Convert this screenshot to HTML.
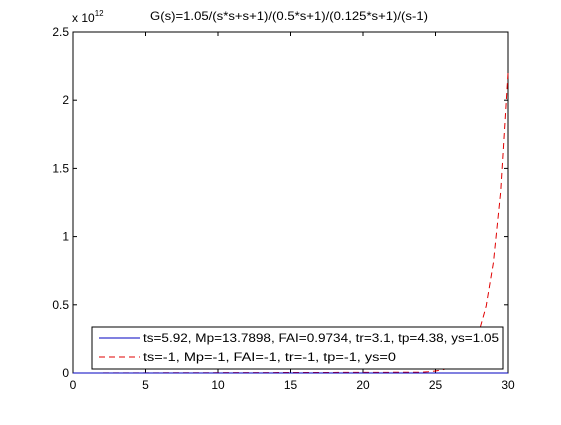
<!DOCTYPE html>
<html><head><meta charset="utf-8"><style>
body{margin:0;background:#fff;}
svg text{font-family:"Liberation Sans",sans-serif;font-size:12px;fill:#000;}
</style></head><body>
<svg id="c" width="561" height="420" viewBox="0 0 561 420" xmlns="http://www.w3.org/2000/svg">
<rect width="561" height="420" fill="#fff"/>
<text x="289" y="20" text-anchor="middle" font-size="13" textLength="278" lengthAdjust="spacingAndGlyphs">G(s)=1.05/(s*s+s+1)/(0.5*s+1)/(0.125*s+1)/(s-1)</text>
<text x="72" y="22">x 10<tspan dy="-6" font-size="8">12</tspan></text>
<g id="ax"></g>
</svg>
<script>
const xTicks=[0,5,10,15,20,25,30];
const yTicks=[0,0.5,1,1.5,2,2.5];
const yTickLabels=["0","0.5","1","1.5","2","2.5"];
const blueT=[0,2,4,6,10,20,30];
const blueY=[0,0,0,0,0,0,0];
const redT=[0,24,24.5,25,25.5,26,26.5,27,27.5,28,28.5,29,29.5,30];
const redY=[0,0.0055,0.009,0.015,0.024,0.04,0.066,0.11,0.18,0.30,0.49,0.81,1.33,2.2];
const L=73,R=508,T=32,B=373;
const sx=v=>L+(v-0)/30*(R-L);
const sy=v=>B-(v-0)/2.5*(B-T);
const NS="http://www.w3.org/2000/svg";
const g=document.getElementById('ax');
function mk(t,a){const e=document.createElementNS(NS,t);for(const k in a)e.setAttribute(k,a[k]);g.appendChild(e);return e;}
let e=mk('rect',{x:L,y:T,width:R-L,height:B-T,fill:'#fff',stroke:'#000','stroke-width':1});


xTicks.forEach(v=>{const x=sx(v);
 mk('line',{x1:x,y1:B,x2:x,y2:B-4,stroke:'#000'});
 mk('line',{x1:x,y1:T,x2:x,y2:T+4,stroke:'#000'});
 const t=mk('text',{x:x,y:B+16,'text-anchor':'middle'});t.textContent=v;
 
 
});
yTicks.forEach((v,i)=>{const y=sy(v);
 mk('line',{x1:L,y1:y,x2:L+4,y2:y,stroke:'#000'});
 mk('line',{x1:R,y1:y,x2:R-4,y2:y,stroke:'#000'});
 const t=mk('text',{x:L-4,y:y+4,'text-anchor':'end'});t.textContent=yTickLabels[i];
 
 
});
let p=mk('polyline',{points:redT.map((t,i)=>sx(t)+','+sy(redY[i])).join(' '),fill:'none',stroke:'#e00000','stroke-width':1,'stroke-dasharray':'6,4'});


p=mk('polyline',{points:blueT.map((t,i)=>sx(t)+','+sy(blueY[i])).join(' '),fill:'none',stroke:'#0000c0','stroke-width':1});


const lg=mk('rect',{x:92,y:327,width:411,height:42,fill:'#fff',stroke:'#000'});


mk('line',{x1:99,y1:338,x2:140,y2:338,stroke:'#0000c0'});
mk('line',{x1:99,y1:357,x2:140,y2:357,stroke:'#e00000','stroke-dasharray':'6,4'});
let t=mk('text',{x:143,y:342,textLength:356,lengthAdjust:'spacingAndGlyphs'});t.textContent='ts=5.92,  Mp=13.7898, FAI=0.9734, tr=3.1, tp=4.38, ys=1.05';


t=mk('text',{x:143,y:361,textLength:253,lengthAdjust:'spacingAndGlyphs'});t.textContent='ts=-1,  Mp=-1, FAI=-1, tr=-1, tp=-1, ys=0';


</script>
</body></html>
